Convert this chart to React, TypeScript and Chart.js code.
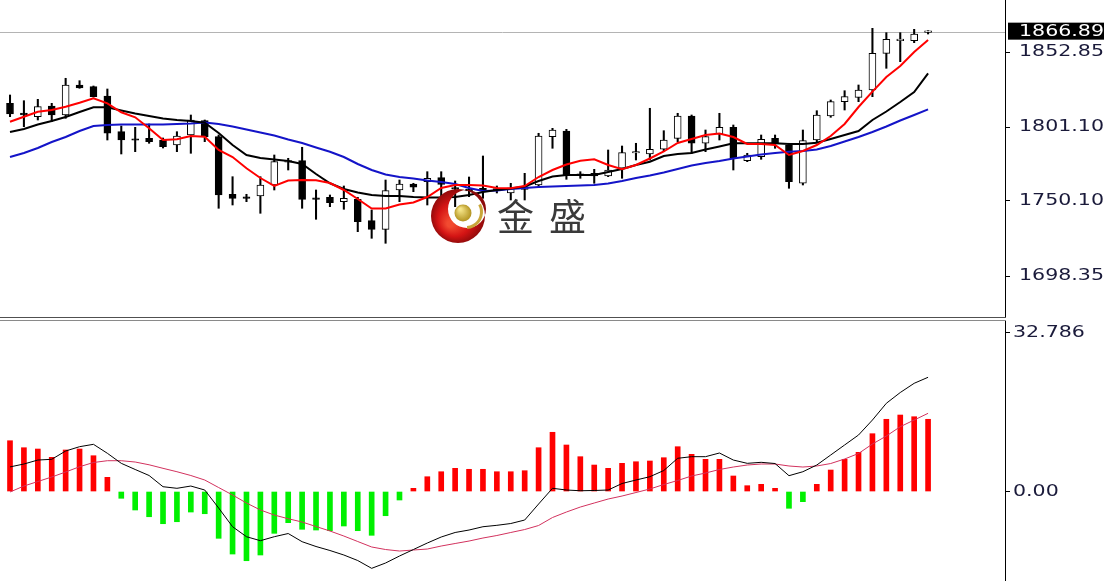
import { useEffect, useRef } from "react";
import { Chart, registerables } from "chart.js";

Chart.register(...registerables);

// ---- Price panel data (candles, one per bar) ----
const openPrices = [
  1817.47, 1810.78, 1808.23, 1815.61, 1809.4, 1830.1, 1828.92, 1822.51, 1797.89, 1792.3,
  1793.33, 1792.16, 1788.71, 1795.61, 1805.47, 1794.44, 1754.71, 1752.2, 1753.54, 1761.13,
  1776.9, 1777.89, 1751.5, 1752.64, 1749.61, 1751.26, 1736.5, 1730.57, 1757.68, 1761.82,
  1763.4, 1766.16, 1759.05, 1758.37, 1758.85, 1758.37, 1755.61, 1758.16, 1761.13, 1794.44,
  1798.37, 1768.02, 1769.19, 1767.33, 1772.65, 1783.2, 1782.51, 1785.75, 1793.33, 1808.71,
  1789.89, 1796.3, 1800.92, 1777.89, 1780.65, 1793.33, 1788.71, 1762.3, 1792.16, 1808.71,
  1818.58, 1821.61, 1826.65, 1851.96, 1860.65, 1860.65, 1866.4,
];
const highPrices = [
  1823.2, 1819.27, 1820.23, 1817.47, 1834.72, 1833.06, 1829.41, 1827.34, 1801.82, 1800.92,
  1803.2, 1793.54, 1797.89, 1809.4, 1805.96, 1795.61, 1766.85, 1754.71, 1766.85, 1781.82,
  1779.54, 1787.13, 1757.68, 1754.23, 1760.44, 1752.64, 1743.88, 1764.57, 1764.57, 1762.3,
  1770.3, 1770.3, 1763.88, 1766.64, 1781.13, 1760.44, 1762.3, 1769.19, 1796.79, 1800.23,
  1799.54, 1770.3, 1771.95, 1785.26, 1788.02, 1789.89, 1814.03, 1798.58, 1810.58, 1809.4,
  1799.06, 1810.58, 1802.51, 1782.99, 1795.61, 1795.61, 1789.89, 1799.06, 1812.37, 1819.75,
  1826.16, 1830.1, 1869.2, 1866.17, 1866.17, 1868.51, 1867.55,
];
const lowPrices = [
  1808.23, 1801.34, 1805.96, 1804.78, 1807.13, 1827.82, 1821.82, 1792.16, 1782.51, 1784.1,
  1789.89, 1786.64, 1784.1, 1782.99, 1790.99, 1745.06, 1747.33, 1749.61, 1741.61, 1757.68,
  1771.47, 1745.06, 1737.47, 1746.16, 1744.37, 1728.92, 1724.36, 1720.92, 1749.61, 1756.51,
  1747.33, 1753.54, 1746.16, 1753.06, 1751.95, 1755.61, 1750.78, 1750.78, 1759.95, 1786.44,
  1765.06, 1765.75, 1762.3, 1766.85, 1765.75, 1778.37, 1778.37, 1784.1, 1790.99, 1782.99,
  1784.1, 1792.16, 1771.47, 1777.2, 1778.85, 1786.44, 1758.85, 1761.13, 1790.99, 1807.82,
  1812.85, 1818.58, 1822.03, 1841.61, 1846.17, 1859.27, 1865.27,
];
const closePrices = [
  1810.09, 1809.4, 1815.13, 1809.4, 1830.1, 1828.03, 1822.03, 1796.79, 1792.16, 1792.0,
  1790.99, 1787.54, 1794.92, 1805.96, 1794.44, 1754.23, 1751.95, 1751.9, 1761.13, 1777.2,
  1777.2, 1751.26, 1751.26, 1748.92, 1751.95, 1735.81, 1730.57, 1757.2, 1761.82, 1759.54,
  1765.75, 1761.47, 1758.37, 1757.0, 1757.2, 1757.68, 1758.85, 1759.95, 1794.92, 1799.06,
  1768.02, 1767.8, 1767.33, 1771.47, 1783.4, 1783.4, 1785.75, 1792.16, 1808.71, 1789.89,
  1794.44, 1800.92, 1779.54, 1781.82, 1792.65, 1789.89, 1763.4, 1791.68, 1809.4, 1818.58,
  1822.03, 1826.65, 1851.96, 1861.61, 1861.13, 1865.27, 1866.89,
];

// ---- Moving averages ----
const maFast = [
  1804.78, 1808.23, 1811.68, 1812.85, 1815.13, 1817.89, 1820.92, 1817.47, 1811.27, 1807.82,
  1800.23, 1792.16, 1792.65, 1794.92, 1794.44, 1785.26, 1780.44, 1772.65, 1765.95, 1760.44,
  1764.23, 1764.57, 1764.37, 1762.5, 1757.68, 1751.47, 1744.92, 1744.92, 1747.68, 1749.06,
  1752.85, 1759.06, 1761.13, 1761.13, 1760.78, 1759.06, 1758.85, 1760.44, 1766.64, 1771.47,
  1775.27, 1777.89, 1778.85, 1774.92, 1771.96, 1774.92, 1779.4, 1784.23, 1790.09, 1792.85,
  1795.61, 1796.65, 1794.23, 1789.4, 1789.4, 1788.71, 1781.82, 1784.58, 1788.71, 1794.92,
  1803.2, 1814.92, 1825.48, 1835.61, 1843.2, 1852.86, 1861.13,
];
const maMid = [
  1797.68, 1799.75, 1802.85, 1805.27, 1808.03, 1811.47, 1814.72, 1814.72, 1812.51, 1810.44,
  1808.71, 1806.99, 1805.96, 1805.27, 1804.1, 1797.0, 1788.71, 1781.82, 1779.75, 1778.72,
  1777.68, 1775.61, 1768.71, 1762.3, 1758.37, 1755.95, 1754.23, 1753.54, 1753.54, 1752.85,
  1752.5, 1752.5, 1752.85, 1754.23, 1756.3, 1757.68, 1758.71, 1760.09, 1763.88, 1766.99,
  1768.02, 1768.02, 1768.02, 1770.09, 1772.16, 1774.92, 1777.2, 1781.13, 1782.51, 1783.2,
  1785.61, 1787.68, 1789.89, 1789.89, 1789.89, 1789.89, 1789.4, 1789.4, 1790.3, 1792.85,
  1795.61, 1798.37, 1805.96, 1811.82, 1818.37, 1825.27, 1838.16,
];
const maSlow = [
  1780.44, 1783.2, 1786.64, 1790.78, 1794.23, 1798.37, 1801.82, 1802.51, 1802.85, 1802.85,
  1802.85, 1802.85, 1803.2, 1803.54, 1804.23, 1803.2, 1801.48, 1799.41, 1797.34, 1795.27,
  1792.51, 1790.09, 1786.99, 1784.09, 1780.44, 1775.61, 1771.47, 1768.37, 1766.64, 1765.61,
  1764.23, 1763.19, 1761.82, 1759.06, 1756.99, 1757.33, 1758.37, 1759.06, 1759.75, 1760.09,
  1760.44, 1760.78, 1761.13, 1762.16, 1763.88, 1765.95, 1767.68, 1769.75, 1772.16, 1774.57,
  1776.3, 1777.68, 1779.4, 1780.78, 1782.16, 1783.2, 1784.09, 1784.58, 1785.61, 1788.02,
  1791.13, 1794.23, 1797.68, 1801.47, 1805.61, 1809.4, 1813.33,
];

// ---- MACD panel ----
const macdHist = [
  10.47, 9.03, 8.76, 7.05, 8.56, 8.76, 7.38, 2.93, -1.4, -3.81,
  -5.2, -6.64, -6.23, -4.23, -4.58, -9.65, -12.89, -14.27, -13.09, -8.62,
  -6.43, -7.79, -7.94, -8.08, -7.11, -8.08, -9.03, -4.99, -1.75, 0.66,
  3.05, 4.08, 4.78, 4.58, 4.58, 4.08, 4.08, 4.29, 9.03, 12.21,
  9.59, 7.18, 5.46, 4.78, 5.81, 6.14, 6.29, 6.97, 9.24, 7.67,
  6.64, 6.64, 3.2, 1.2, 1.48, 0.66, -3.46, -2.1, 1.48, 4.43,
  6.64, 8.08, 11.92, 14.89, 15.77, 15.42, 14.89,
];
const macdDif = [
  5.07, 5.67, 6.49, 6.64, 8.35, 9.24, 9.73, 7.88, 5.81, 4.54,
  3.3, 0.99, 0.66, 1.13, 0.31, -3.4, -7.26, -9.32, -10.14, -9.32,
  -8.66, -10.35, -11.34, -12.16, -13.09, -14.23, -15.84, -14.74, -13.3, -11.96,
  -10.62, -9.38, -8.45, -7.94, -7.26, -6.97, -6.6, -5.88, -2.58, 0.66,
  0.31, 0.16, 0.21, 0.31, 1.65, 2.37, 3.05, 4.33, 6.85, 7.18,
  7.18, 7.94, 6.49, 5.81, 6.02, 5.77, 3.26, 4.08, 5.46, 7.53,
  9.59, 11.65, 14.74, 18.19, 20.41, 22.31, 23.55,
];
const macdDea = [
  -0.1, 1.13, 2.06, 2.99, 4.02, 5.11, 5.98, 6.35, 6.35, 6.08,
  5.51, 4.78, 4.08, 3.3, 2.37, 0.82, -0.72, -2.37, -3.81, -4.85,
  -5.61, -6.29, -7.22, -8.14, -9.18, -10.31, -11.44, -11.96, -12.27, -12.06,
  -11.86, -11.24, -10.72, -10.21, -9.59, -9.07, -8.45, -7.84, -7.01, -5.36,
  -4.23, -3.2, -2.37, -1.55, -0.93, -0.21, 0.52, 1.44, 2.27, 3.2,
  3.81, 4.54, 5.05, 5.46, 5.67, 5.67, 5.26, 5.05, 5.26, 5.77,
  6.7, 7.84, 9.79, 11.44, 13.36, 14.74, 16.12,
];

// ---- Axis ticks / labels ----
const priceTicks = [1698.35, 1750.1, 1801.1, 1852.85];
const priceTickLabels = ["1698.35", "1750.10", "1801.10", "1852.85"];
const macdTicks = [0, 32.786];
const macdTickLabels = ["0.00", "32.786"];
const lastPrice = 1866.89;
const lastPriceLabel = "1866.89";
const watermarkText = ["金", "盛"];

const PRICE_MIN = 1670.08;
const PRICE_MAX = 1888.72;
const MACD_MIN = -18.45;
const MACD_MAX = 35.155;
const X_MIN = -0.719;
const X_MAX = 71.53;
const AXIS_W = 99;
const LABEL_STRETCH = 1.37;
const LABEL_FONT = '15px "DejaVu Sans"';
const LABEL_COLOR = "#1a1a3a";

const barIdx = openPrices.map((_, i) => i);
const pts = (arr: number[]) => arr.map((v, i) => ({ x: i, y: v }));

function drawStretched(ctx: CanvasRenderingContext2D, text: string, x: number, y: number) {
  ctx.save();
  ctx.translate(x, y);
  ctx.scale(LABEL_STRETCH, 1);
  ctx.fillText(text, 0, 0);
  ctx.restore();
}

function labelPlugin(id: string, labels: string[], dx: number) {
  return {
    id,
    afterDraw(chart: any) {
      const s = chart.scales.y;
      const ctx = chart.ctx as CanvasRenderingContext2D;
      ctx.save();
      ctx.font = LABEL_FONT;
      ctx.fillStyle = LABEL_COLOR;
      ctx.textBaseline = "middle";
      ctx.textAlign = "left";
      s.ticks.forEach((t: any, i: number) => {
        const y = s.getPixelForValue(t.value);
        drawStretched(ctx, labels[i], s.left + dx, y + 0.5);
      });
      ctx.restore();
    },
  };
}

const priceDecor = {
  id: "priceDecor",
  beforeDatasetsDraw(chart: any) {
    const { ctx, chartArea } = chart;
    const y = Math.round(chart.scales.y.getPixelForValue(lastPrice)) + 0.5;
    ctx.save();
    ctx.strokeStyle = "#b4b4b4";
    ctx.lineWidth = 1;
    ctx.beginPath();
    ctx.moveTo(chartArea.left, y);
    ctx.lineTo(chartArea.right, y);
    ctx.stroke();
    ctx.restore();
  },
  afterDatasetsDraw(chart: any) {
    const ctx = chart.ctx as CanvasRenderingContext2D;
    ctx.save();
    // logo crescent
    const g = ctx.createRadialGradient(450, 224, 3, 458, 216, 28);
    g.addColorStop(0, "#f24a30");
    g.addColorStop(0.55, "#d41414");
    g.addColorStop(1, "#8c0a0a");
    ctx.beginPath();
    ctx.arc(458, 216, 27, 0, Math.PI * 2);
    ctx.arc(467, 209, 19, 0, Math.PI * 2, true);
    ctx.fillStyle = g;
    ctx.fill("evenodd");
    // gold ball
    const g2 = ctx.createRadialGradient(460, 209, 1, 463, 213, 9);
    g2.addColorStop(0, "#f6e68a");
    g2.addColorStop(1, "#b0901c");
    ctx.beginPath();
    ctx.arc(463, 213, 8.5, 0, Math.PI * 2);
    ctx.fillStyle = g2;
    ctx.fill();
    // gold swoosh
    ctx.beginPath();
    ctx.arc(466, 212, 15.5, -0.5, 1.5);
    ctx.strokeStyle = "#c9a63a";
    ctx.lineWidth = 3;
    ctx.stroke();
    // watermark text
    ctx.fillStyle = "#3a3a3a";
    ctx.font = '37px "Noto Sans CJK SC"';
    ctx.textBaseline = "alphabetic";
    ctx.textAlign = "left";
    ctx.fillText(watermarkText[0], 497, 231);
    ctx.fillText(watermarkText[1], 549, 231);
    ctx.restore();
  },
  afterDraw(chart: any) {
    const { ctx, chartArea } = chart;
    const s = chart.scales.y;
    ctx.save();
    // bottom border of price panel
    ctx.strokeStyle = "#505050";
    ctx.lineWidth = 1;
    ctx.beginPath();
    ctx.moveTo(0, chartArea.bottom + 0.5);
    ctx.lineTo(chartArea.right + 1, chartArea.bottom + 0.5);
    ctx.stroke();
    // current price box
    const y = s.getPixelForValue(lastPrice);
    ctx.fillStyle = "#000";
    ctx.fillRect(s.left + 3, y - 9, AXIS_W, 17);
    ctx.font = LABEL_FONT;
    ctx.fillStyle = "#fff";
    ctx.textBaseline = "middle";
    drawStretched(ctx, lastPriceLabel, s.left + 14, y);
    ctx.restore();
  },
};

const macdDecor = {
  id: "macdDecor",
  afterDraw(chart: any) {
    const { ctx, chartArea } = chart;
    ctx.save();
    ctx.strokeStyle = "#8a8a8a";
    ctx.lineWidth = 1;
    ctx.beginPath();
    ctx.moveTo(0, chartArea.top - 0.5);
    ctx.lineTo(chartArea.right + 1, chartArea.top - 0.5);
    ctx.stroke();
    ctx.restore();
  },
};

function yAxis(min: number, max: number, ticks: number[]) {
  return {
    position: "right" as const,
    min,
    max,
    afterBuildTicks: (s: any) => {
      s.ticks = ticks.map((v) => ({ value: v }));
    },
    afterFit: (s: any) => {
      s.width = AXIS_W;
      s.paddingTop = 0;
      s.paddingBottom = 0;
    },
    ticks: { display: false, autoSkip: false },
    grid: { display: true, drawOnChartArea: false, drawTicks: true, tickLength: 5, color: "#000" },
    border: { display: true, color: "#000", width: 1 },
  };
}

export default function App() {
  const topRef = useRef<HTMLCanvasElement | null>(null);
  const botRef = useRef<HTMLCanvasElement | null>(null);

  useEffect(() => {
    if (!topRef.current || !botRef.current) return;
    const top = new Chart(topRef.current, {
      type: "bar",
      data: {
        datasets: [
          { type: "line", label: "MA fast", data: pts(maFast), borderColor: "#ff0000", borderWidth: 2, pointRadius: 0, tension: 0, order: 0 },
          { type: "line", label: "MA mid", data: pts(maMid), borderColor: "#000000", borderWidth: 2, pointRadius: 0, tension: 0, order: 0 },
          { type: "line", label: "MA slow", data: pts(maSlow), borderColor: "#1414c8", borderWidth: 2, pointRadius: 0, tension: 0, order: 0 },
          {
            type: "bar",
            label: "Body",
            data: barIdx.map((i) => ({ x: i, y: [openPrices[i], closePrices[i]] })),
            backgroundColor: barIdx.map((i) => (closePrices[i] >= openPrices[i] ? "#ffffff" : "#000000")),
            borderColor: "#000000",
            borderWidth: 1,
            borderSkipped: false,
            barThickness: 7,
            minBarLength: 1.5,
            grouped: false,
            order: 1,
          },
          {
            type: "bar",
            label: "Wick",
            data: barIdx.map((i) => ({ x: i, y: [lowPrices[i], highPrices[i]] })),
            backgroundColor: "#000000",
            borderWidth: 0,
            barThickness: 1.4,
            grouped: false,
            order: 2,
          },
        ],
      } as any,
      options: {
        responsive: false,
        animation: false,
        devicePixelRatio: 1,
        layout: { padding: { left: 0, right: 0, top: 0, bottom: 1 } },
        plugins: { legend: { display: false }, tooltip: { enabled: false } },
        scales: {
          x: { type: "linear", min: X_MIN, max: X_MAX, display: false, offset: false },
          y: yAxis(PRICE_MIN, PRICE_MAX, priceTicks),
        },
      } as any,
      plugins: [priceDecor, labelPlugin("priceLabels", priceTickLabels, 14)],
    });

    const bot = new Chart(botRef.current, {
      type: "bar",
      data: {
        datasets: [
          { type: "line", label: "DIF", data: pts(macdDif), borderColor: "#000000", borderWidth: 1, pointRadius: 0, tension: 0, order: 0 },
          { type: "line", label: "DEA", data: pts(macdDea), borderColor: "#d2325e", borderWidth: 1, pointRadius: 0, tension: 0, order: 0 },
          {
            type: "bar",
            label: "MACD",
            data: pts(macdHist),
            backgroundColor: macdHist.map((v) => (v >= 0 ? "#ff0000" : "#00f000")),
            borderWidth: 0,
            barThickness: 5,
            grouped: false,
            order: 1,
          },
        ],
      } as any,
      options: {
        responsive: false,
        animation: false,
        devicePixelRatio: 1,
        layout: { padding: { left: 0, right: 0, top: 3, bottom: 0 } },
        plugins: { legend: { display: false }, tooltip: { enabled: false } },
        scales: {
          x: { type: "linear", min: X_MIN, max: X_MAX, display: false, offset: false },
          y: yAxis(MACD_MIN, MACD_MAX, macdTicks),
        },
      } as any,
      plugins: [macdDecor, labelPlugin("macdLabels", macdTickLabels, 8)],
    });

    return () => {
      top.destroy();
      bot.destroy();
    };
  }, []);

  return (
    <div style={{ position: "absolute", left: 0, top: 0, width: 1104, height: 581, background: "#fff", overflow: "hidden" }}>
      <canvas ref={topRef} width={1104} height={318} style={{ position: "absolute", left: 0, top: 0, width: 1104, height: 318 }} />
      <canvas ref={botRef} width={1104} height={263} style={{ position: "absolute", left: 0, top: 318, width: 1104, height: 263 }} />
    </div>
  );
}
